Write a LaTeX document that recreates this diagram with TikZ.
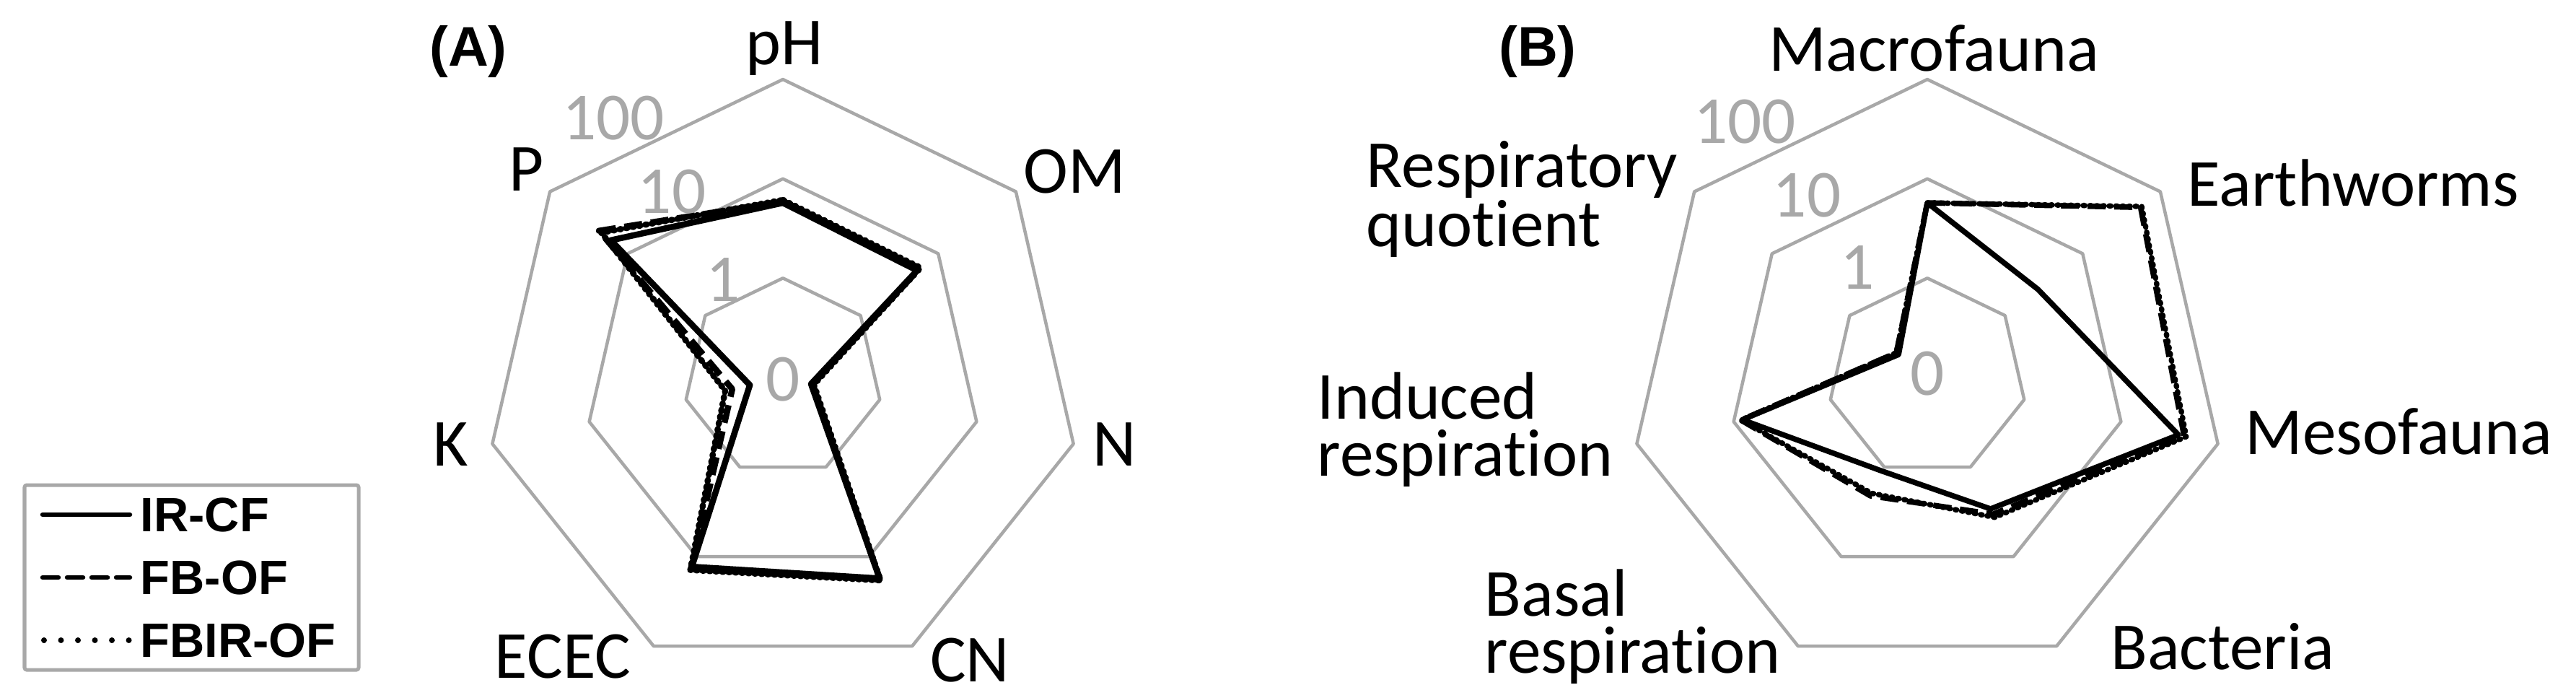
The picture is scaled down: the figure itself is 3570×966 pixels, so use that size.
\documentclass[tikz,border=0pt]{standalone}
\usepackage{fontspec}
\setmainfont{Carlito}[Ligatures={NoCommon}]
\newfontfamily\arialb{Liberation Sans}[BoldFont={Liberation Sans Bold}]
\definecolor{ring}{HTML}{A8A8A8}
\begin{document}
\begin{tikzpicture}[x=0.01cm,y=-0.01cm,
  ring/.style={draw=ring,line width=0.045cm,line join=round},
  lab/.style={font=\fontsize{26.5pt}{22.5pt}\selectfont,inner sep=0pt},
  num/.style={lab,text=ring},
  ttl/.style={font=\arialb\bfseries\fontsize{22pt}{24pt}\selectfont,inner sep=0pt},
  leg/.style={font=\arialb\bfseries\fontsize{19pt}{20pt}\selectfont,inner sep=0pt,anchor=west},
  sA/.style={line width=0.085cm,line join=round},
  sB/.style={line width=0.075cm,line join=round},
  dsh/.style={dash pattern=on 0.25cm off 0.12cm},
  dts/.style={dash pattern=on 0.02cm off 0.07cm,line cap=round}]
\useasboundingbox (0,0) rectangle (3570,966);
% ---------- Chart A ----------
\begin{scope}[shift={(1085,523)},yscale=-1]
  \foreach \r in {413,275.3,137.7}
    \draw[ring] (90:\r) \foreach \k in {1,...,6}{ -- ({90-\k*360/7}:\r)} -- cycle;
  \draw[sA,dts] (90:246) -- (38.57:244) -- (-12.86:44) -- (-64.29:312) -- (-115.71:296) -- (-167.14:82) -- (-218.57:322) -- cycle;
  \draw[sA,dsh] (90:244) -- (38.57:242) -- (-12.86:42) -- (-64.29:310) -- (-115.71:294) -- (-167.14:72) -- (-218.57:326) -- cycle;
  \draw[sA] (90:242) -- (38.57:238) -- (-12.86:40) -- (-64.29:309) -- (-115.71:291) -- (-167.14:47) -- (-218.57:305) -- cycle;
\end{scope}
\node[ttl] (tA) at (649,71) {(A)};
\node[lab] (pH) at (1087,67) {pH};
\node[lab] (OM) at (1489,238) {OM};
\node[lab] (N) at (1545,616) {N};
\node[lab] (CN) at (1344,915) {CN};
\node[lab] (ECEC) at (780,910) {ECEC};
\node[lab] (K) at (625,616) {K};
\node[lab] (P) at (730,235) {P};
\node[num] (a100) at (850,164) {100};
\node[num] (a10) at (931,266) {10};
\node[num] (a1) at (1002,387) {1};
\node[num] (a0) at (1085,526) {0};
% ---------- Chart B ----------
\begin{scope}[shift={(2671,523)},yscale=-1]
  \foreach \r in {413,275.3,137.7}
    \draw[ring] (90:\r) \foreach \k in {1,...,6}{ -- ({90-\k*360/7}:\r)} -- cycle;
  \draw[sB,dts] (90:242) -- (38.57:380) -- (-12.86:368) -- (-64.29:215) -- (-115.71:178) -- (-167.14:265) -- (-218.57:55) -- cycle;
  \draw[sB,dsh] (90:242) -- (38.57:378) -- (-12.86:365) -- (-64.29:210) -- (-115.71:182) -- (-167.14:265) -- (-218.57:55) -- cycle;
  \draw[sB] (90:242) -- (38.57:196) -- (-12.86:357) -- (-64.29:202) -- (-115.71:144) -- (-167.14:263) -- (-218.57:51) -- cycle;
\end{scope}
\node[ttl] (tB) at (2131,71) {(B)};
\node[lab] (macro) at (2680,67) {Macrofauna};
\node[lab,anchor=west] (earth) at (3031,253) {Earthworms};
\node[lab,anchor=west] (meso) at (3111,598) {Mesofauna};
\node[lab,anchor=east] (bact) at (3236,896) {Bacteria};
\node[lab,anchor=west,align=left] (basal) at (2057,868) {Basal\\respiration};
\node[lab,anchor=west,align=left] (induced) at (1825,595) {Induced\\respiration};
\node[lab,anchor=west,align=left] (rq) at (1893,276) {Respiratory\\quotient};
\node[num] (b100) at (2418,169) {100};
\node[num] (b10) at (2504,271) {10};
\node[num] (b1) at (2574,370) {1};
\node[num] (b0) at (2671,518) {0};
% ---------- Legend ----------
\draw[draw=ring,line width=0.05cm,rounded corners=0.03cm] (34,672) rectangle (497,928);
\coordinate (l1a) at (59,713); \coordinate (l1b) at (180,713);
\coordinate (l2a) at (59,800); \coordinate (l2b) at (180,800);
\coordinate (l3a) at (61,887); \coordinate (l3b) at (180,887);
\draw[line width=0.065cm,line cap=round] (l1a) -- (l1b);
\draw[line width=0.065cm,line cap=round,dash pattern=on 0.22cm off 0.12cm] (l2a) -- (l2b);
\draw[line width=0.08cm,line cap=round,dash pattern=on 0cm off 0.235cm] (l3a) -- (l3b);
\node[leg] (g1) at (194,713) {IR-CF};
\node[leg] (g2) at (194,800) {FB-OF};
\node[leg] (g3) at (194,887) {FBIR-OF};
\end{tikzpicture}
\end{document}
